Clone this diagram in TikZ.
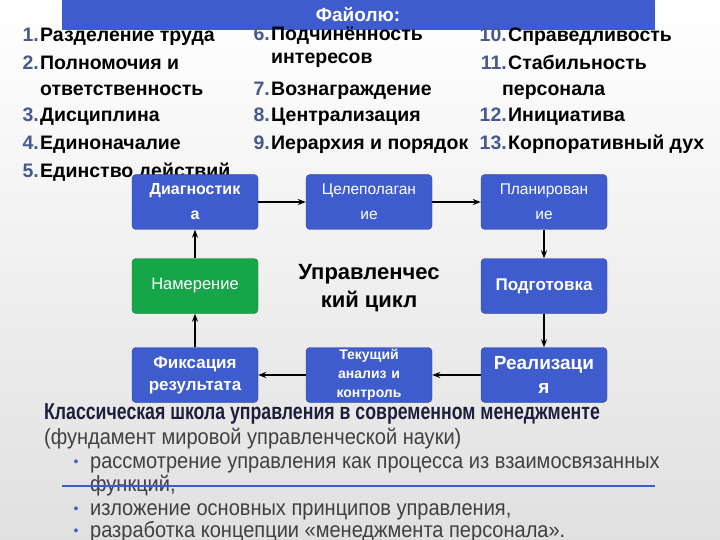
\documentclass[tikz,border=0pt]{standalone}
\usepackage{fontspec}
\setmainfont{Liberation Sans}
\usetikzlibrary{arrows.meta}
\definecolor{boxblue}{RGB}{62,92,205}
\definecolor{boxgreen}{RGB}{22,165,72}
\definecolor{numcol}{RGB}{70,90,140}
\definecolor{titlec}{RGB}{30,30,60}
\begin{document}
\begin{tikzpicture}[x=1pt,y=-1pt,
 box/.style={draw=boxblue!70!black,fill=boxblue,rounded corners=4pt,minimum width=126pt,minimum height=55pt,text width=124pt,align=center,text=white,inner sep=0pt},
 li/.style={anchor=base west,font=\bfseries\fontsize{19.5}{22}\selectfont,inner sep=0pt},
 num/.style={anchor=base east,font=\bfseries\fontsize{19.5}{22}\selectfont,text=numcol,inner sep=0pt},
 arr/.style={-{Stealth[length=8pt]},line width=1.5pt},
 bod/.style={anchor=base west,inner sep=0pt,text=black!75,font=\fontsize{22}{24}\selectfont,xscale=0.91},
 dot/.style={text=boxblue,font=\fontsize{14}{14}\selectfont,inner sep=0pt,anchor=base}]
\shade[top color=white,bottom color=black!12] (0,0) rectangle (720,540);
\useasboundingbox (0,0) rectangle (720,540);
\fill[boxblue] (62,0) rectangle (655,30);
\node[text=white,font=\bfseries\fontsize{19}{20}\selectfont,anchor=base] (hd) at (358,22) {Файолю:};
% column 1
\node[num] (n1) at (39,42) {1.}; \node[li] (t1) at (40,42) {Разделение труда};
\node[num] (n2) at (39,70) {2.}; \node[li] (t2) at (40,70) {Полномочия и};
\node[li] (t2b) at (40,96) {ответственность};
\node[num] (n3) at (39,122) {3.}; \node[li] (t3) at (40,122) {Дисциплина};
\node[num] (n4) at (39,150) {4.}; \node[li] (t4) at (40,150) {Единоначалие};
\node[num] (n5) at (39,178) {5.}; \node[li] (t5) at (40,178) {Единство действий};
% column 2
\node[num] (n6) at (270,41) {6.}; \node[li] (t6) at (271,41) {Подчинённость};
\node[li] (t6b) at (271,64) {интересов};
\node[num] (n7) at (270,96) {7.}; \node[li] (t7) at (271,96) {Вознаграждение};
\node[num] (n8) at (270,122) {8.}; \node[li] (t8) at (271,122) {Централизация};
\node[num] (n9) at (270,150) {9.}; \node[li] (t9) at (271,150) {Иерархия и порядок};
% column 3
\node[num] (n10) at (507,42) {10.}; \node[li] (t10) at (508,42) {Справедливость};
\node[num] (n11) at (507,70) {11.}; \node[li] (t11) at (508,70) {Стабильность};
\node[li] (t11b) at (502,96) {персонала};
\node[num] (n12) at (507,122) {12.}; \node[li] (t12) at (508,122) {Инициатива};
\node[num] (n13) at (507,150) {13.}; \node[li] (t13) at (508,150) {Корпоративный дух};
% cycle boxes
\node[box,font=\bfseries\fontsize{16}{25}\selectfont] (b1) at (195,202) {Диагностик\\а};
\node[box,font=\fontsize{15.5}{25}\selectfont] (b2) at (369,202) {Целеполаган\\ие};
\node[box,font=\fontsize{15.5}{25}\selectfont] (b3) at (544,202) {Планирован\\ие};
\node[box,fill=boxgreen,draw=boxgreen!70!black,font=\fontsize{16.5}{20}\selectfont] (b4) at (195,286) {Намерение};
\node[font=\bfseries\fontsize{22}{28}\selectfont,align=center] (c) at (369,288) {Управленчес\\кий цикл};
\node[box,font=\bfseries\fontsize{17}{22}\selectfont] (b5) at (544,286) {Подготовка};
\node[box,font=\bfseries\fontsize{17}{22}\selectfont] (b6) at (195,375) {Фиксация\\результата};
\node[box,font=\bfseries\fontsize{14}{19}\selectfont] (b7) at (369,375) {Текущий\\анализ и\\контроль};
\node[box,font=\bfseries\fontsize{19}{24}\selectfont] (b8) at (544,375) {Реализаци\\я};
\draw[arr] (b1) -- (b2);
\draw[arr] (b2) -- (b3);
\draw[arr] (b3) -- (b5);
\draw[arr] (b5) -- (b8);
\draw[arr] (b8) -- (b7);
\draw[arr] (b7) -- (b6);
\draw[arr] (b6) -- (b4);
\draw[arr] (b4) -- (b1);
% bottom text
\node[anchor=base west,inner sep=0pt,text=titlec,font=\bfseries\fontsize{23}{24}\selectfont,xscale=0.77] (tt) at (44,419) {Классическая школа управления в современном менеджменте};
\node[bod] (s) at (44,444) {(фундамент мировой управленческой науки)};
\node[dot] (d1) at (76,466) {•};
\node[bod] (l1) at (90,468) {рассмотрение управления как процесса из взаимосвязанных};
\node[bod] (l1b) at (90,491) {функций,};
\coordinate (la) at (62,486); \coordinate (lb) at (655,486);
\draw[boxblue,line width=1.2pt] (la) -- (lb);
\node[dot] (d2) at (76,513) {•};
\node[bod] (l2) at (90,515) {изложение основных принципов управления,};
\node[dot] (d3) at (76,535) {•};
\node[bod] (l3) at (90,537) {разработка концепции «менеджмента персонала».};
\end{tikzpicture}
\end{document}
